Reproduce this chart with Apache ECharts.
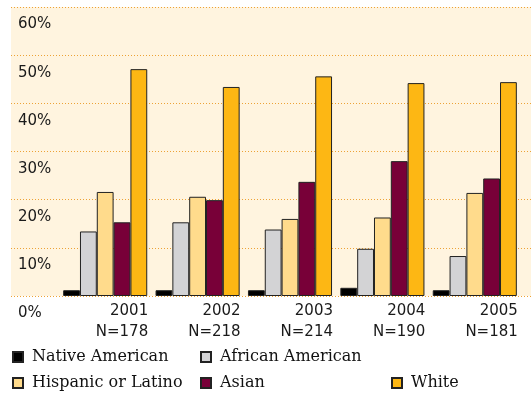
<!DOCTYPE html>
<html>
<head>
<meta charset="utf-8">
<script src="https://cdn.jsdelivr.net/npm/echarts@6/dist/echarts.min.js"></script>
<style>
  html, body { margin: 0; padding: 0; background: #fff; }
  #chart { width: 531px; height: 393px; }
</style>
</head>
<body>
<div id="chart"></div>
<script>
const years = ['2001', '2002', '2003', '2004', '2005'];
const sampleSizes = [178, 218, 214, 190, 181];
const yTicks = [0, 10, 20, 30, 40, 50, 60];

const nativeAmerican = [1.2, 1.2, 1.2, 1.7, 1.2];
const africanAmerican = [13.4, 15.3, 13.8, 9.8, 8.3];
const hispanicLatino = [21.6, 20.6, 16.0, 16.3, 21.4];
const asian = [15.3, 19.9, 23.7, 28.0, 24.4];
const white = [47.1, 43.4, 45.6, 44.2, 44.4];

const seriesNames = ['Native American', 'African American', 'Hispanic or Latino', 'Asian', 'White'];
const seriesValues = [nativeAmerican, africanAmerican, hispanicLatino, asian, white];
const colors = ['#000000', '#d3d3d5', '#ffdb8c', '#780038', '#fdb714'];

const chart = echarts.init(document.getElementById('chart'));

const legendText = {
  fontFamily: 'DejaVu Serif',
  fontSize: 16,
  color: '#111',
  lineHeight: 16,
  padding: [0, 0, 0, 4]
};

function legendAt(names, left, top) {
  return {
    data: names,
    orient: 'vertical',
    left: left,
    top: top,
    padding: 0,
    itemGap: 10,
    itemWidth: 10,
    itemHeight: 10,
    icon: 'rect',
    selectedMode: false,
    textStyle: legendText
  };
}

const option = {
  animation: false,
  grid: [
    { left: 11, right: 0, top: 7, bottom: 97, show: true, backgroundColor: '#fff4df', borderWidth: 0 },
    { left: 59, right: 10, top: 7, bottom: 97 }
  ],
  xAxis: [
    { type: 'value', gridIndex: 0, show: false },
    {
      type: 'category',
      gridIndex: 1,
      data: years,
      axisLine: { show: false },
      axisTick: { show: false },
      axisLabel: {
        margin: 5,
        formatter: (v, i) => '{a|' + v + '}\n{a|N=' + sampleSizes[i] + '}',
        rich: {
          a: {
            width: 86,
            align: 'right',
            fontFamily: 'DejaVu Sans',
            fontSize: 15,
            lineHeight: 21,
            color: '#1a1a1a'
          }
        }
      }
    }
  ],
  yAxis: [
    {
      type: 'value',
      gridIndex: 0,
      min: yTicks[0],
      max: yTicks[yTicks.length - 1],
      interval: 10,
      axisLine: { show: false },
      axisTick: { show: false },
      splitLine: { lineStyle: { color: '#eda235', type: [1, 2], width: 1 } },
      axisLabel: {
        inside: true,
        margin: 7,
        verticalAlign: 'top',
        padding: [10, 0, 0, 0],
        formatter: '{value}%',
        fontFamily: 'DejaVu Sans',
        fontSize: 15,
        color: '#1a1a1a'
      }
    },
    {
      type: 'value',
      gridIndex: 1,
      min: yTicks[0],
      max: yTicks[yTicks.length - 1],
      show: false
    }
  ],
  legend: [
    legendAt(['Native American', 'Hispanic or Latino'], 12, 349),
    legendAt(['African American', 'Asian'], 200, 349),
    legendAt(['White'], 391, 375)
  ],
  series: seriesNames.map((name, i) => ({
    name: name,
    type: 'bar',
    xAxisIndex: 1,
    yAxisIndex: 1,
    data: seriesValues[i],
    barGap: '0%',
    barCategoryGap: '9%',
    itemStyle: { color: colors[i], borderColor: '#222', borderWidth: 1 }
  }))
};

chart.setOption(option);
</script>
</body>
</html>
